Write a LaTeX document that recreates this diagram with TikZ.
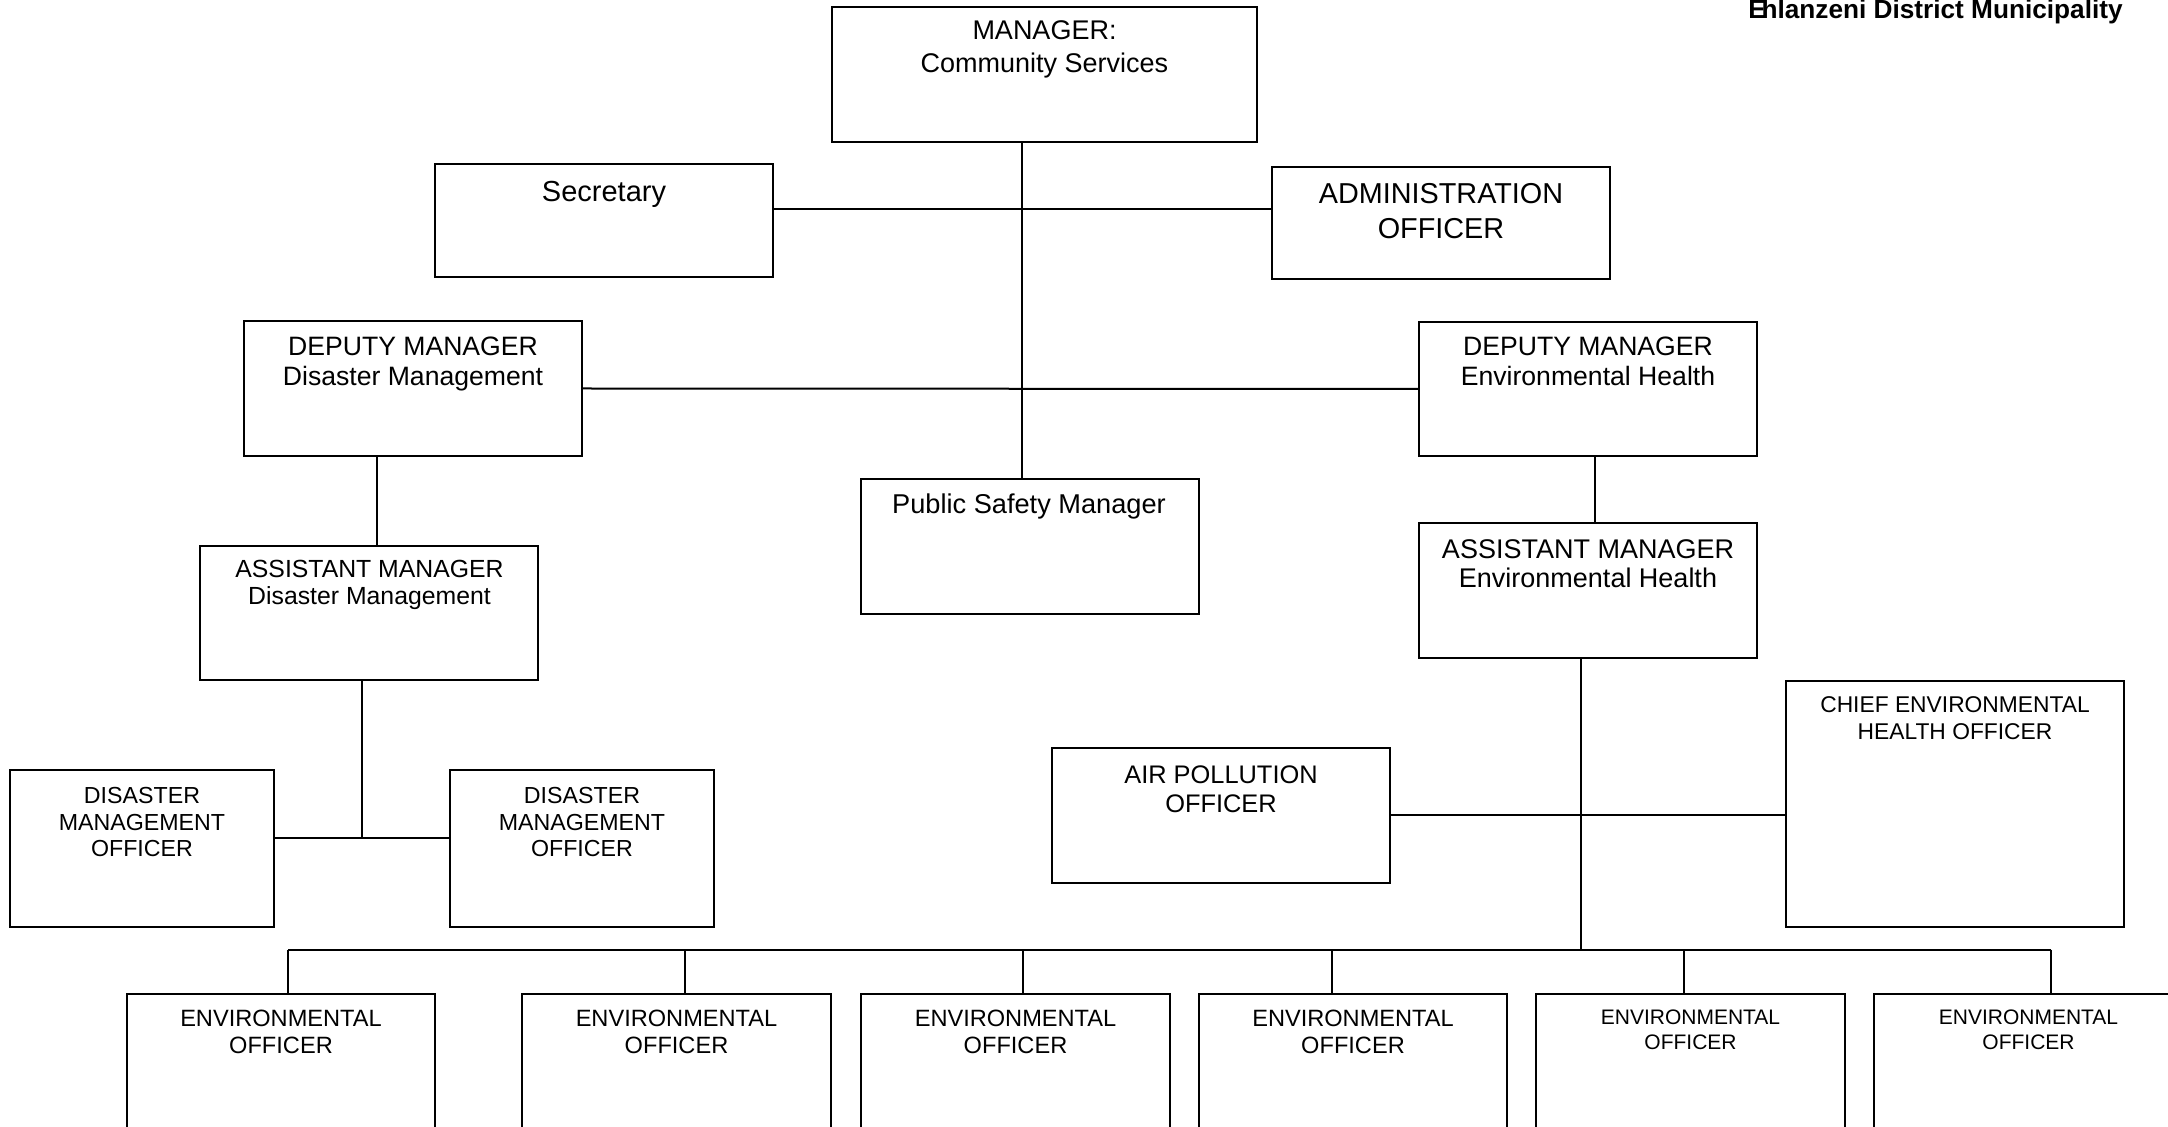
\documentclass[tikz,border=0pt]{standalone}
\usepackage{fontspec}
\setmainfont{Liberation Sans}
\usetikzlibrary{fit}
\newcommand{\ttx}[3]{\fontsize{#1}{#2}\selectfont\begin{tabular}[t]{@{}c@{}}#3\end{tabular}}
\begin{document}
\begin{tikzpicture}[x=0.5pt,y=-0.5pt,
  box/.style={draw=black, line width=1.2pt, inner sep=0pt, rectangle},
  lbl/.style={inner sep=0pt, anchor=base},
  conn/.style={draw=black, line width=1pt}]
\useasboundingbox (0,0) rectangle (2168,1127);
\clip (0,0) rectangle (2168,1127);
% header
\node[inner sep=0pt, anchor=base east] (hdr) at (2123,19)
  {\fontsize{13.1}{15}\selectfont\bfseries E\kern-0.16em hlanzeni District Municipality};
% boxes
\node[box, fit={(832,7)(1257,142)}] (mgr) {};
\node[box, fit={(435,164)(773,277)}] (sec) {};
\node[box, fit={(1272,167)(1610,279)}] (adm) {};
\node[box, fit={(244,321)(582,456)}] (ddm) {};
\node[box, fit={(1419,322)(1757,456)}] (deh) {};
\node[box, fit={(861,479)(1199,614)}] (psm) {};
\node[box, fit={(200,546)(538,680)}] (asd) {};
\node[box, fit={(1419,523)(1757,658)}] (aeh) {};
\node[box, fit={(10,770)(274,927)}] (dmo1) {};
\node[box, fit={(450,770)(714,927)}] (dmo2) {};
\node[box, fit={(1052,748)(1390,883)}] (air) {};
\node[box, fit={(1786,681)(2124,927)}] (chief) {};
\node[box, fit={(127,994)(435,1150)}] (env1) {};
\node[box, fit={(522,994)(831,1150)}] (env2) {};
\node[box, fit={(861,994)(1170,1150)}] (env3) {};
\node[box, fit={(1199,994)(1507,1150)}] (env4) {};
\node[box, fit={(1536,994)(1845,1150)}] (env5) {};
\node[box, fit={(1874,994)(2182,1150)}] (env6) {};
% labels
\node[lbl] (mgrT) at (1044.5,39.5) {\ttx{13.5}{16.7}{MANAGER:\\Community Services}};
\node[lbl] (secT) at (604,201.7) {\ttx{14.5}{17}{Secretary}};
\node[lbl] (admT) at (1441,204) {\ttx{14.4}{17.15}{ADMINISTRATION\\OFFICER}};
\node[lbl] (ddmT) at (413,356) {\ttx{13.3}{15}{DEPUTY MANAGER\\Disaster Management}};
\node[lbl] (dehT) at (1588,355.7) {\ttx{13.3}{15.1}{DEPUTY MANAGER\\Environmental Health}};
\node[lbl] (psmT) at (1029,514) {\ttx{13.6}{16}{Public Safety Manager}};
\node[lbl] (asdT) at (369.5,577.7) {\ttx{12.4}{13.3}{ASSISTANT MANAGER\\Disaster Management}};
\node[lbl] (aehT) at (1588,558.3) {\ttx{13.5}{14.5}{ASSISTANT MANAGER\\Environmental Health}};
\node[lbl] (dmo1T) at (142,803.3) {\ttx{11.6}{13.35}{DISASTER\\MANAGEMENT\\OFFICER}};
\node[lbl] (dmo2T) at (582,803.3) {\ttx{11.6}{13.35}{DISASTER\\MANAGEMENT\\OFFICER}};
\node[lbl] (airT) at (1221,783.3) {\ttx{12.7}{14.7}{AIR POLLUTION\\OFFICER}};
\node[lbl] (chiefT) at (1955,712.7) {\ttx{11.4}{13.65}{CHIEF ENVIRONMENTAL\\HEALTH OFFICER}};
\node[lbl] (env1T) at (281,1026.7) {\ttx{11.8}{13.3}{ENVIRONMENTAL\\OFFICER}};
\node[lbl] (env2T) at (676.5,1026.7) {\ttx{11.8}{13.3}{ENVIRONMENTAL\\OFFICER}};
\node[lbl] (env3T) at (1015.5,1026.7) {\ttx{11.8}{13.3}{ENVIRONMENTAL\\OFFICER}};
\node[lbl] (env4T) at (1353,1026.7) {\ttx{11.8}{13.3}{ENVIRONMENTAL\\OFFICER}};
\node[lbl] (env5T) at (1690.5,1024) {\ttx{10.5}{12.65}{ENVIRONMENTAL\\OFFICER}};
\node[lbl] (env6T) at (2028.5,1024) {\ttx{10.5}{12.65}{ENVIRONMENTAL\\OFFICER}};
% connector guide coordinates
\coordinate (v1) at (1022,0);
\coordinate (h1) at (0,209);
\coordinate (v2) at (377,0);
\coordinate (v3) at (1595,0);
\coordinate (v4) at (362,0);
\coordinate (h2) at (0,838);
\coordinate (v5) at (1580.5,0);
\coordinate (h3) at (0,815);
\coordinate (bus) at (0,949.5);
\coordinate (d1) at (288,0);
\coordinate (d2) at (684.5,0);
\coordinate (d3) at (1023,0);
\coordinate (d4) at (1331.5,0);
\coordinate (d5) at (1684,0);
\coordinate (d6) at (2050.5,0);
% connectors
\draw[conn] (mgr.south -| v1) -- (psm.north -| v1);
\draw[conn] (sec.east |- h1) -- (adm.west |- h1);
\draw[conn] (ddm.east) -- (deh.west);
\draw[conn] (ddm.south -| v2) -- (asd.north -| v2);
\draw[conn] (deh.south -| v3) -- (aeh.north -| v3);
\draw[conn] (asd.south -| v4) -- (v4 |- h2);
\draw[conn] (dmo1.east |- h2) -- (dmo2.west |- h2);
\draw[conn] (aeh.south -| v5) -- (v5 |- bus);
\draw[conn] (air.east |- h3) -- (chief.west |- h3);
\draw[conn] (d1 |- bus) -- (d6 |- bus);
\draw[conn] (d1 |- bus) -- (env1.north -| d1);
\draw[conn] (d2 |- bus) -- (env2.north -| d2);
\draw[conn] (d3 |- bus) -- (env3.north -| d3);
\draw[conn] (d4 |- bus) -- (env4.north -| d4);
\draw[conn] (d5 |- bus) -- (env5.north -| d5);
\draw[conn] (d6 |- bus) -- (env6.north -| d6);
\end{tikzpicture}
\end{document}
